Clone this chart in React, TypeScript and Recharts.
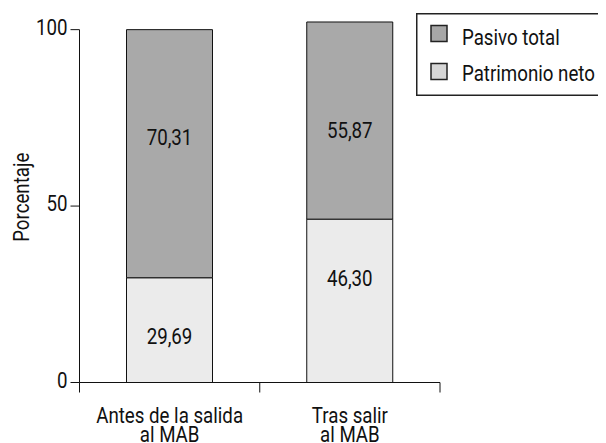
import React from 'react';
import { BarChart, Bar, XAxis, YAxis, Legend, LabelList, ReferenceLine } from 'recharts';

const categories = ['Antes de la salida\nal MAB', 'Tras salir\nal MAB'];
const patrimonioNeto = [29.69, 46.3];
const pasivoTotal = [70.31, 55.87];
const yTicks = [0, 50, 100];
// boundaries between categories get a tick mark, the half steps carry the names
const xTicks = [0, 0.5, 1, 1.5, 2];

const data = categories.map((name, i) => ({
  pos: i + 0.5,
  name,
  patrimonio: patrimonioNeto[i],
  pasivo: pasivoTotal[i],
}));

const FONT = "Roboto, 'Liberation Sans', sans-serif";
const FS = 22;
const CAP = FS * 0.711;
const INK = '#111';
const legendOrder = ['pasivo', 'patrimonio'];
const legendShade: Record<string, string> = { pasivo: '#a7a7a7', patrimonio: '#d6d6d6' };

// condensed look: squeeze glyphs horizontally around a chosen edge
const squeeze = (origin: string): React.CSSProperties => ({
  transform: 'scaleX(0.85)',
  transformBox: 'fill-box',
  transformOrigin: origin,
});

const fmt = (v: any) => Number(v).toFixed(2).replace('.', ',');

const XTick = (props: any) => {
  const { x, y, payload } = props;
  const v = payload.value as number;
  if (Number.isInteger(v)) {
    return <line x1={x} y1={y - 10} x2={x} y2={y} stroke={INK} strokeWidth={1} />;
  }
  const lines = categories[Math.floor(v)].split('\n');
  return (
    <text x={x} y={y} textAnchor="middle" fontSize={FS} fontFamily={FONT} fill={INK} style={squeeze('center')}>
      {lines.map((l, i) => (
        <tspan key={i} x={x} dy={i === 0 ? 31 : 19}>{l}</tspan>
      ))}
    </text>
  );
};

const YTick = (props: any) => {
  const { x, y, payload } = props;
  return (
    <text x={x} y={y + CAP / 2 - 2.5} textAnchor="end" fontSize={FS} fontFamily={FONT} fill={INK} style={squeeze('right')}>
      {payload.value}
    </text>
  );
};

const YLabel = ({ viewBox }: any) => {
  const cx = viewBox.x + 13;
  const cy = viewBox.y + viewBox.height / 2;
  return (
    <g transform={`translate(${cx}, ${cy}) rotate(-90)`}>
      <text x={0} y={CAP / 2} textAnchor="middle" fontSize={FS} fontFamily={FONT} fill={INK} style={squeeze('center')}>
        Porcentaje
      </text>
    </g>
  );
};

const segLabel = (gap: number) => (props: any) => {
  const { x, y, width, value } = props;
  return (
    <text x={x + width / 2} y={y + gap + CAP} textAnchor="middle" fontSize={FS} fontFamily={FONT} fill={INK} style={squeeze('center')}>
      {fmt(value)}
    </text>
  );
};

const LegendBox = ({ payload }: any) => {
  const items = [...(payload || [])].sort(
    (a: any, b: any) => legendOrder.indexOf(a.dataKey) - legendOrder.indexOf(b.dataKey)
  );
  return (
    <svg width={186} height={83} style={{ display: 'block' }}>
      <rect x={0.75} y={0.75} width={184.5} height={81.5} fill="#fff" stroke="#222" strokeWidth={1.5} />
      {items.map((e: any, i: number) => (
        <g key={e.value}>
          <rect x={15} y={12.5 + i * 38} width={16} height={16} fill={legendShade[e.dataKey] || e.color} stroke="#222" strokeWidth={1.5} />
          <text x={46} y={32.5 + i * 35.5} fontSize={FS} fontFamily={FONT} fill={INK} style={squeeze('left')}>{e.value}</text>
        </g>
      ))}
    </svg>
  );
};

export default function App() {
  return (
    <BarChart
      width={598}
      height={435}
      data={data}
      margin={{ top: 4, right: 166, bottom: 0, left: 0 }}
      style={{ fontFamily: FONT }}
    >
      <XAxis
        dataKey="pos"
        type="number"
        domain={[0, 2]}
        ticks={xTicks}
        interval={0}
        height={60.5}
        tickLine={false}
        tickSize={10}
        tickMargin={0}
        tick={<XTick />}
        axisLine={{ stroke: INK }}
      />
      <YAxis
        type="number"
        domain={[0, 105]}
        ticks={yTicks}
        width={71.5}
        axisLine={false}
        tickSize={9}
        tickMargin={3}
        tickLine={{ stroke: INK }}
        tick={<YTick />}
        label={YLabel}
      />
      <ReferenceLine segment={[{ x: 0, y: 0 }, { x: 0, y: 100 }]} stroke={INK} strokeWidth={1} />
      <Legend
        layout="vertical"
        align="center"
        verticalAlign="middle"
        wrapperStyle={{ left: 408, top: 5, width: 186, height: 83 }}
        content={<LegendBox />}
      />
      <Bar dataKey="patrimonio" name="Patrimonio neto" stackId="a" fill="#ebebeb" stroke={INK} strokeWidth={1} barSize={86} isAnimationActive={false}>
        <LabelList dataKey="patrimonio" content={segLabel(51)} />
      </Bar>
      <Bar dataKey="pasivo" name="Pasivo total" stackId="a" fill="#a9a9a9" stroke={INK} strokeWidth={1} barSize={86} isAnimationActive={false}>
        <LabelList dataKey="pasivo" content={segLabel(100)} />
      </Bar>
    </BarChart>
  );
}
